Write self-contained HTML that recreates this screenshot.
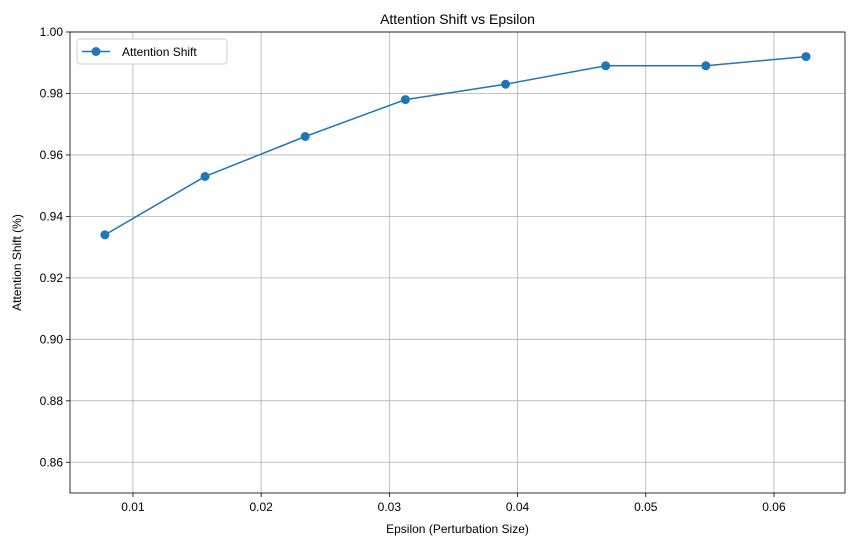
<!DOCTYPE html>
<html><head><meta charset="utf-8"><style>
body{margin:0;background:#fff;font-family:"Liberation Sans","DejaVu Sans",sans-serif;}
svg text{font-family:"Liberation Sans","DejaVu Sans",sans-serif;fill:#000;}
</style></head><body>
<svg id="chart" width="855" height="547"></svg>
<script>
const epsilons=[0.0078125,0.015625,0.0234375,0.03125,0.0390625,0.046875,0.0546875,0.0625];
const shifts=[0.934,0.953,0.966,0.978,0.983,0.989,0.989,0.992];
const xTicks=[0.01,0.02,0.03,0.04,0.05,0.06];
const yTicks=[0.86,0.88,0.90,0.92,0.94,0.96,0.98,1.00];
const L=70,R=845,T=32,B=493;
const xMin=0.00509,xMax=0.06554,yMin=0.85,yMax=1.0;
const sx=v=>L+(v-xMin)/(xMax-xMin)*(R-L);
const sy=v=>B-(v-yMin)/(yMax-yMin)*(B-T);
const svg=document.getElementById('chart');
const NS='http://www.w3.org/2000/svg';
function mk(tag,attrs,parent){const e=document.createElementNS(NS,tag);for(const k in attrs)e.setAttribute(k,attrs[k]);(parent||svg).appendChild(e);return e;}
const grid=mk('g',{});


xTicks.forEach(t=>{
  const x=sx(t);
  mk('line',{x1:x,x2:x,y1:T,y2:B,stroke:'#b0b0b0','stroke-width':0.8},grid);
  mk('line',{x1:x,x2:x,y1:B,y2:B+4,stroke:'#000','stroke-width':0.8});
  const tx=mk('text',{x:x,y:B+18,'text-anchor':'middle','font-size':12});
  tx.textContent=t.toFixed(2);
  
  
});
yTicks.forEach(t=>{
  const y=sy(t);
  mk('line',{x1:L,x2:R,y1:y,y2:y,stroke:'#b0b0b0','stroke-width':0.8},grid);
  mk('line',{x1:L-4,x2:L,y1:y,y2:y,stroke:'#000','stroke-width':0.8});
  const tx=mk('text',{x:L-7,y:y+4,'text-anchor':'end','font-size':12});
  tx.textContent=t.toFixed(2);
  
  
});
const pts=epsilons.map((e,i)=>sx(e)+','+sy(shifts[i])).join(' ');
const line=mk('polyline',{points:pts,fill:'none',stroke:'#1f77b4','stroke-width':1.5});


epsilons.forEach((e,i)=>{
  const c=mk('circle',{cx:sx(e),cy:sy(shifts[i]),r:4.5,fill:'#1f77b4'});
  
  
});
const frame=mk('rect',{x:L,y:T,width:R-L,height:B-T,fill:'none',stroke:'#000','stroke-width':0.8});


const title=mk('text',{x:(L+R)/2,y:24,'text-anchor':'middle','font-size':14});
title.textContent='Attention Shift vs Epsilon';


const xl=mk('text',{x:(L+R)/2,y:533,'text-anchor':'middle','font-size':12});
xl.textContent='Epsilon (Perturbation Size)';


const yl=mk('text',{x:21,y:(T+B)/2,'text-anchor':'middle','font-size':12,transform:'rotate(-90 21 '+((T+B)/2)+')'});
yl.textContent='Attention Shift (%)';


const lg=mk('g',{});


mk('rect',{x:77,y:39,width:150,height:25,rx:3,fill:'#fff',stroke:'#d0d0d0','stroke-width':1},lg);
mk('line',{x1:82,x2:110,y1:51.5,y2:51.5,stroke:'#1f77b4','stroke-width':1.5},lg);
mk('circle',{cx:96,cy:51.5,r:4.5,fill:'#1f77b4'},lg);
const lt=mk('text',{x:122,y:56,'font-size':12},lg);
lt.textContent='Attention Shift';


</script>
</body></html>
